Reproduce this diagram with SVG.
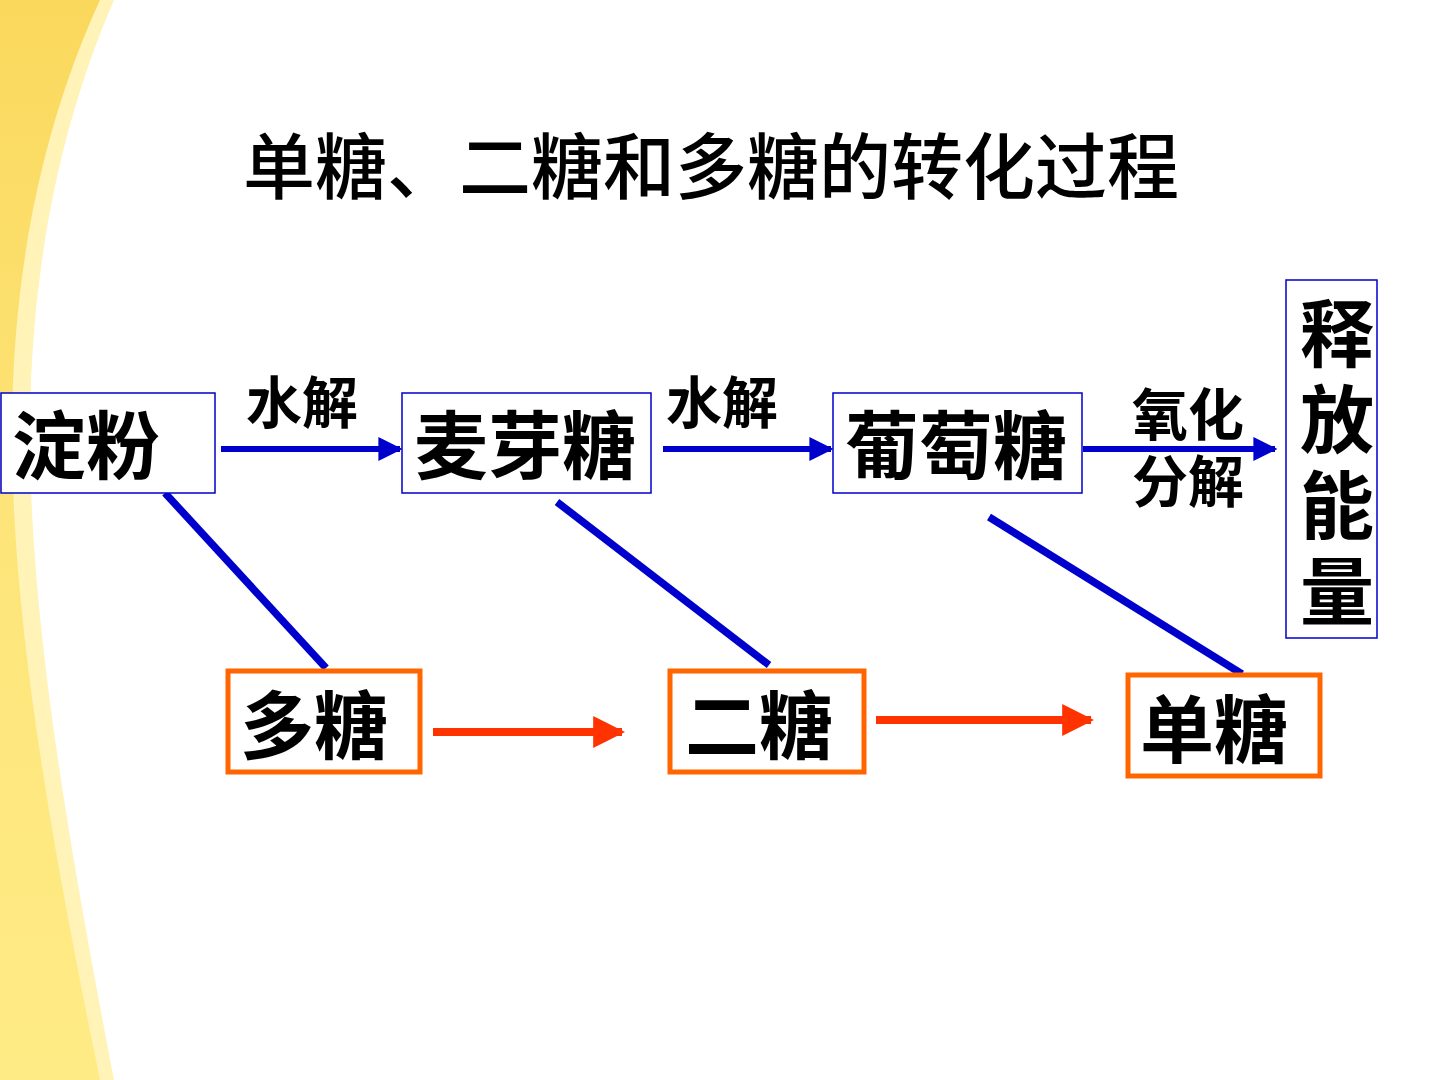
<svg xmlns="http://www.w3.org/2000/svg" width="1440" height="1080" viewBox="0 0 1440 1080">
<defs>
<linearGradient id="yg" x1="0" y1="0" x2="0" y2="1">
<stop offset="0" stop-color="#FAD85C"/>
<stop offset="0.5" stop-color="#FDE57A"/>
<stop offset="1" stop-color="#FFEB85"/>
</linearGradient>
<marker id="ab" markerWidth="4" markerHeight="4" refX="3.6" refY="2" orient="auto" markerUnits="strokeWidth" viewBox="0 0 4 4">
<path d="M0,0 L4,2 L0,4 Z" fill="#0000CC"/>
</marker>
<marker id="ar" markerWidth="4" markerHeight="4" refX="3.6" refY="2" orient="auto" markerUnits="strokeWidth" viewBox="0 0 4 4">
<path d="M0,0 L4,2 L0,4 Z" fill="#FF3300"/>
</marker>
</defs>
<style>
.t{font-family:"Noto Sans CJK SC","Noto Sans CJK JP",sans-serif;font-weight:bold;fill:#000;text-anchor:middle}
.big{font-size:74px}
.lab{font-size:56px}
.bb{fill:#fff;stroke:#0000CC;stroke-width:1.5}
.ob{fill:#fff;stroke:#FF6600;stroke-width:5}
.bl{stroke:#0000CC;stroke-width:6;fill:none}
.dl{stroke:#0000CC;stroke-width:7.5;fill:none}
.rl{stroke:#FF3300;stroke-width:8;fill:none}
</style>
<rect width="1440" height="1080" fill="#fff"/>
<g id="background">
<path d="M0,0 L114,0 C62,120 32,260 30,420 C28,620 72,860 114,1080 L0,1080 Z" fill="#FFF3B8"/>
<path d="M0,0 L100,0 C45,120 14,260 12,420 C10,620 55,860 100,1080 L0,1080 Z" fill="url(#yg)"/>
</g>
<g id="title">
<text x="711" y="193" style="font-family:'Noto Sans CJK SC',sans-serif;font-size:72px;font-weight:500;fill:#000;text-anchor:middle">单糖、二糖和多糖的转化过程</text>
</g>
<g id="connectors">
<line class="bl" x1="221" y1="449" x2="400" y2="449" marker-end="url(#ab)"/>
<line class="bl" x1="663" y1="449" x2="831" y2="449" marker-end="url(#ab)"/>
<line class="bl" x1="1083" y1="449" x2="1275" y2="449" marker-end="url(#ab)"/>
<line class="dl" x1="165" y1="493" x2="326" y2="668"/>
<line class="dl" x1="557" y1="502" x2="769" y2="665"/>
<line class="dl" x1="989" y1="517" x2="1242" y2="674"/>
<line class="rl" x1="433" y1="732" x2="622" y2="732" marker-end="url(#ar)"/>
<line class="rl" x1="876" y1="720" x2="1091" y2="720" marker-end="url(#ar)"/>
<text class="t lab" x="302" y="423">水解</text>
<text class="t lab" x="722" y="423">水解</text>
<text class="t lab" x="1188" y="435">氧化<tspan x="1188" dy="67">分解</tspan></text>
</g>
<g id="starch">
<rect class="bb" x="1" y="393" width="214" height="100"/>
<text class="t big" x="86" y="473">淀粉</text>
</g>
<g id="maltose">
<rect class="bb" x="402" y="393" width="249" height="100"/>
<text class="t big" x="525" y="473">麦芽糖</text>
</g>
<g id="glucose">
<rect class="bb" x="833" y="393" width="249" height="100"/>
<text class="t big" x="956" y="473">葡萄糖</text>
</g>
<g id="energy">
<rect class="bb" x="1286" y="280" width="91" height="358"/>
<text class="t big" x="1337" y="468" writing-mode="vertical-rl" letter-spacing="12">释放能量</text>
</g>
<g id="polysaccharide">
<rect class="ob" x="228" y="671" width="192" height="101"/>
<text class="t big" x="314" y="753">多糖</text>
</g>
<g id="disaccharide">
<rect class="ob" x="670" y="671" width="194" height="101"/>
<text class="t big" x="759" y="753">二糖</text>
</g>
<g id="monosaccharide">
<rect class="ob" x="1128" y="675" width="192" height="101"/>
<text class="t big" x="1214" y="757">单糖</text>
</g>
</svg>
